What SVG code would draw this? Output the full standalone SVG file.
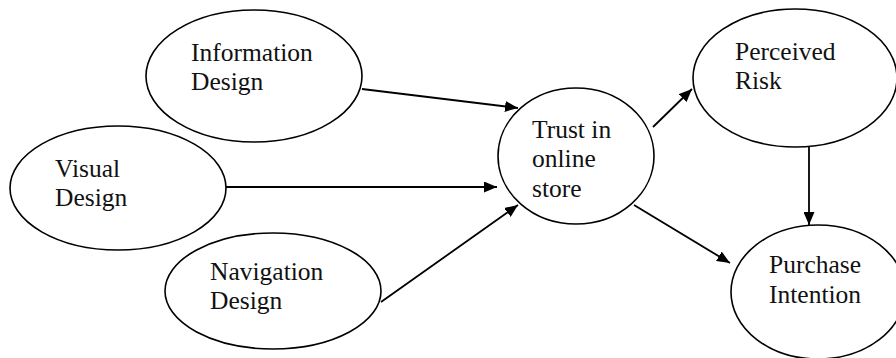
<svg xmlns="http://www.w3.org/2000/svg" width="896" height="358" viewBox="0 0 896 358">
<style>
.n ellipse{fill:#fff;stroke:#000;stroke-width:1.6}
.n text{font-family:"Liberation Serif","Times New Roman",serif;font-size:25.5px;fill:#111}
.c line{stroke:#000;stroke-width:1.8;marker-end:url(#ah)}
</style>
<defs>
<marker id="ah" viewBox="0 0 13 11" refX="13" refY="5.5" markerWidth="13" markerHeight="11" markerUnits="userSpaceOnUse" orient="auto">
<path d="M0,0 L13,5.5 L0,11 z" fill="#000"/>
</marker>
</defs>
<rect width="896" height="358" fill="#fff"/>
<g class="c">
<line x1="362" y1="89" x2="518" y2="108"/>
<line x1="226" y1="187" x2="497" y2="187"/>
<line x1="381" y1="302" x2="518" y2="205"/>
<line x1="653" y1="127" x2="692" y2="89"/>
<line x1="634" y1="205" x2="730" y2="263"/>
<line x1="809" y1="147" x2="809" y2="225"/>
</g>
<g id="info" class="n"><ellipse cx="254" cy="76" rx="108" ry="66"/><text x="191" y="61">Information</text><text x="191" y="90">Design</text></g>
<g id="visual" class="n"><ellipse cx="118" cy="188" rx="108" ry="62"/><text x="55" y="177">Visual</text><text x="55" y="206">Design</text></g>
<g id="nav" class="n"><ellipse cx="273" cy="291" rx="108" ry="58"/><text x="210" y="280">Navigation</text><text x="210" y="309">Design</text></g>
<g id="trust" class="n"><ellipse cx="576" cy="156" rx="78" ry="68"/><text x="532" y="138">Trust in</text><text x="532" y="167">online</text><text x="532" y="197">store</text></g>
<g id="risk" class="n"><ellipse cx="795" cy="78" rx="102" ry="69"/><text x="735" y="60">Perceived</text><text x="735" y="89">Risk</text></g>
<g id="purchase" class="n"><ellipse cx="818" cy="292" rx="87" ry="67"/><text x="769" y="273">Purchase</text><text x="769" y="303">Intention</text></g>
</svg>
